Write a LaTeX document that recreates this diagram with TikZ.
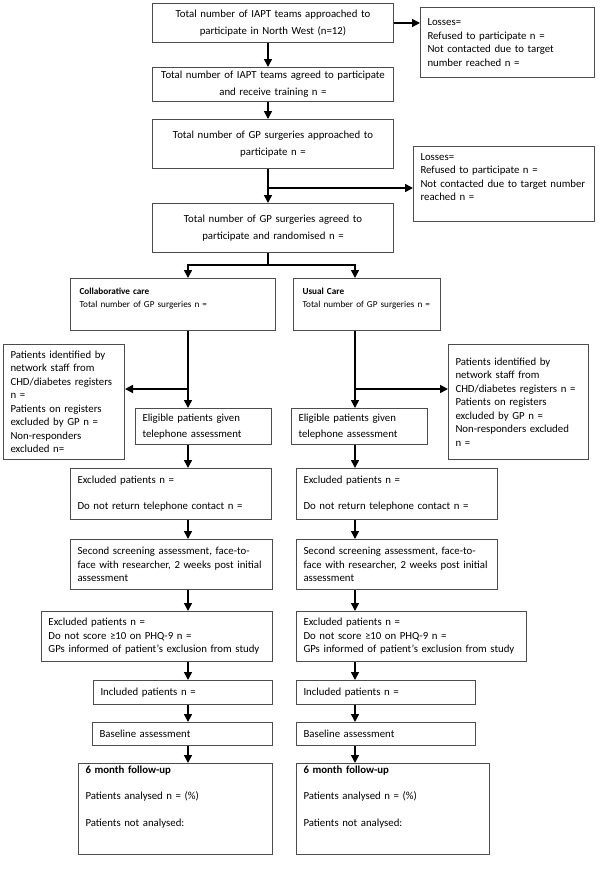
\documentclass[tikz,border=0pt]{standalone}
\usepackage{fontspec}
\setmainfont{Carlito}
\usepackage{tikz}
\usetikzlibrary{shapes,arrows.meta,positioning}
\tikzstyle{box} = [rectangle, draw=black!70, line width=1pt, anchor=north west, inner xsep=7pt, inner ysep=2pt, align=left, font=\fontsize{10.8}{13.5}\selectfont]
\tikzstyle{cbox} = [box, align=center, font=\fontsize{10.8}{17}\selectfont]
\tikzstyle{armbox} = [box, inner xsep=9pt, font=\fontsize{9.2}{13}\selectfont]
\tikzstyle{line} = [draw, line width=1.6pt]
\tikzstyle{arrow} = [line, -{Triangle[length=8pt,width=8pt]}]

\begin{document}
\begin{tikzpicture}[x=1pt, y=-1pt]
	\useasboundingbox (0,0) rectangle (600,871);

	% recruitment of teams and surgeries
	\node [cbox, text width=227pt, minimum height=39pt] (teams) at (152,3) {Total number of IAPT teams approached to\\participate in North West (n=12)};
	\node [box, text width=160pt, minimum height=70pt] (loss1) at (420,7) {Losses=\\Refused to participate n =\\Not contacted due to target\\number reached n =};
	\node [cbox, text width=227pt, minimum height=34pt] (agreed) at (152,67) {Total number of IAPT teams agreed to participate\\and receive training n =};
	\node [cbox, text width=227pt, minimum height=49pt] (surg) at (152,119) {Total number of GP surgeries approached to\\participate n =};
	\node [box, text width=167pt, minimum height=75pt] (loss2) at (413,146) {Losses=\\Refused to participate n =\\Not contacted due to target number\\reached n =\\[0pt]\mbox{}};
	\node [cbox, text width=227pt, minimum height=49pt] (rand) at (152,203) {Total number of GP surgeries agreed to\\participate and randomised n =};

	% the two arms
	\node [armbox, text width=187pt, minimum height=52pt] (collab) at (70,278) {\textbf{Collaborative care}\\Total number of GP surgeries n =\\\mbox{}};
	\node [armbox, text width=129pt, minimum height=52pt] (usual) at (293,278) {\textbf{Usual Care}\\Total number of GP surgeries n =\\\mbox{}};

	\node [box, text width=107pt, minimum height=115pt] (patL) at (3,344) {Patients identified by\\network staff from\\CHD/diabetes registers\\n =\\Patients on registers\\excluded by GP n =\\Non-responders\\excluded n=};
	\node [box, text width=126pt, minimum height=115pt] (patR) at (448,344) {Patients identified by\\network staff from\\CHD/diabetes registers n =\\Patients on registers\\excluded by GP n =\\Non-responders excluded\\n =};

	\node [box, text width=122pt, minimum height=36pt, font=\fontsize{10.8}{16}\selectfont] (eligL) at (135,408) {Eligible patients given\\telephone assessment};
	\node [box, text width=122pt, minimum height=36pt, font=\fontsize{10.8}{16}\selectfont] (eligR) at (291,408) {Eligible patients given\\telephone assessment};

	\node [box, text width=187pt, minimum height=51pt] (exclL) at (70,468) {Excluded patients n =\\[12.5pt]Do not return telephone contact n =};
	\node [box, text width=187pt, minimum height=51pt] (exclR) at (296,468) {Excluded patients n =\\[12.5pt]Do not return telephone contact n =};

	\node [box, text width=188pt, minimum height=50pt] (secL) at (70,539) {Second screening assessment, face-to-\\face with researcher, 2 weeks post initial\\assessment};
	\node [box, text width=187pt, minimum height=50pt] (secR) at (296,539) {Second screening assessment, face-to-\\face with researcher, 2 weeks post initial\\assessment};

	\node [box, text width=217pt, minimum height=50pt] (phqL) at (41,611) {Excluded patients n =\\Do not score ≥10 on PHQ-9 n =\\GPs informed of patient’s exclusion from study};
	\node [box, text width=216pt, minimum height=50pt] (phqR) at (296,611) {Excluded patients n =\\Do not score ≥10 on PHQ-9 n =\\GPs informed of patient’s exclusion from study};

	\node [box, text width=165pt, minimum height=24pt] (inclL) at (93,680) {Included patients n =};
	\node [box, text width=165pt, minimum height=24pt] (inclR) at (296,680) {Included patients n =};

	\node [box, text width=166pt, minimum height=23pt] (baseL) at (92,722) {Baseline assessment};
	\node [box, text width=165pt, minimum height=23pt] (baseR) at (296,722) {Baseline assessment};

	\node [box, text width=180pt, minimum height=91pt] (followL) at (78,763) {\textbf{6 month follow-up}\\[13pt]Patients analysed n = (\%)\\[13pt]Patients not analysed:\\[13pt]\mbox{}};
	\node [box, text width=179pt, minimum height=91pt] (followR) at (296,763) {\textbf{6 month follow-up}\\[13pt]Patients analysed n = (\%)\\[13pt]Patients not analysed:\\[13pt]\mbox{}};

	% connectors
	\coordinate (stem) at (268,0);
	\coordinate (lcol) at (188,0);
	\coordinate (rcol) at (355,0);
	\coordinate (lossjoin) at (268,188);
	\coordinate (split) at (268,265);
	\coordinate (lbranch) at (188,389);
	\coordinate (rbranch) at (355,389);

	\path [arrow] (teams.east) -- (teams.east -| loss1.west);
	\path [arrow] (stem |- teams.south) -- (stem |- agreed.north);
	\path [arrow] (stem |- agreed.south) -- (stem |- surg.north);
	\path [arrow] (stem |- surg.south) -- (stem |- rand.north);
	\path [arrow] (lossjoin) -- (lossjoin -| loss2.west);
	\path [line] (stem |- rand.south) -- (split);
	\path [arrow] (split) -| (lcol |- collab.north);
	\path [arrow] (split) -| (rcol |- usual.north);

	\path [arrow] (lcol |- collab.south) -- (lcol |- eligL.north);
	\path [arrow] (lbranch) -- (lbranch -| patL.east);
	\path [arrow] (lcol |- eligL.south) -- (lcol |- exclL.north);
	\path [arrow] (lcol |- exclL.south) -- (lcol |- secL.north);
	\path [arrow] (lcol |- secL.south) -- (lcol |- phqL.north);
	\path [arrow] (lcol |- phqL.south) -- (lcol |- inclL.north);
	\path [arrow] (lcol |- inclL.south) -- (lcol |- baseL.north);
	\path [arrow] (lcol |- baseL.south) -- (lcol |- followL.north);

	\path [arrow] (rcol |- usual.south) -- (rcol |- eligR.north);
	\path [arrow] (rbranch) -- (rbranch -| patR.west);
	\path [arrow] (rcol |- eligR.south) -- (rcol |- exclR.north);
	\path [arrow] (rcol |- exclR.south) -- (rcol |- secR.north);
	\path [arrow] (rcol |- secR.south) -- (rcol |- phqR.north);
	\path [arrow] (rcol |- phqR.south) -- (rcol |- inclR.north);
	\path [arrow] (rcol |- inclR.south) -- (rcol |- baseR.north);
	\path [arrow] (rcol |- baseR.south) -- (rcol |- followR.north);
\end{tikzpicture}
\end{document}
